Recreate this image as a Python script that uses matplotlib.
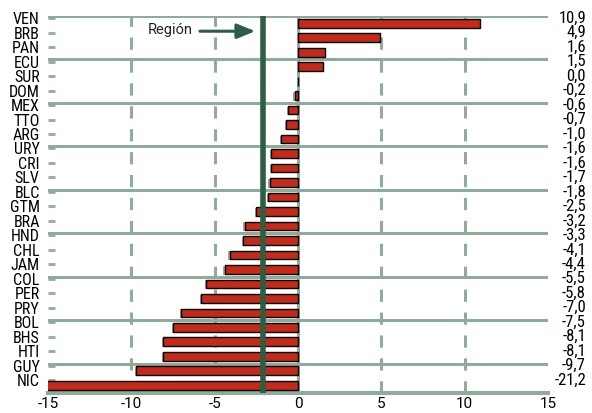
import matplotlib.pyplot as plt
from matplotlib.transforms import blended_transform_factory

plt.rcParams['font.family'] = ['Roboto Condensed', 'DejaVu Sans']

paises = ["VEN", "BRB", "PAN", "ECU", "SUR", "DOM", "MEX", "TTO", "ARG", "URY",
          "CRI", "SLV", "BLC", "GTM", "BRA", "HND", "CHL", "JAM", "COL", "PER",
          "PRY", "BOL", "BHS", "HTI", "GUY", "NIC"]
valores = [10.9, 4.9, 1.6, 1.5, 0.0, -0.2, -0.6, -0.7, -1.0, -1.6,
           -1.6, -1.7, -1.8, -2.5, -3.2, -3.3, -4.1, -4.4, -5.5, -5.8,
           -7.0, -7.5, -8.1, -8.1, -9.7, -21.2]
region = -2.1

verde_gris = '#8fac9a'
verde = '#2d5e45'
rojo = '#c42a1a'
normal = ['Roboto', 'DejaVu Sans']

fig = plt.figure(figsize=(5.92, 4.13), dpi=100)
ax = fig.add_axes([48 / 592, 1 - 392.5 / 413, 500 / 592, 376.5 / 413])

ypos = list(range(len(paises)))
ax.set_xlim(-15, 15)
ax.set_ylim(len(paises) - 0.5, -0.5)

# grilla
for x in [-10, -5, 5, 10]:
    ax.axvline(x, color=verde_gris, lw=2.2, ls=(0, (4, 3.5)), zorder=1)
ax.axvline(0, color=verde_gris, lw=2.2, zorder=1)
for i in range(0, len(paises), 3):
    ax.axhline(i - 0.5, color=verde_gris, lw=2.2, zorder=1)
ax.axhline(len(paises) - 0.5, color=verde_gris, lw=3, zorder=1, clip_on=False)

# sombra leve y barras
ax.barh([y + 0.06 for y in ypos], valores, left=-0.08, height=0.6, color='#a5a5a5',
        lw=0, zorder=2)
ax.barh(ypos, valores, height=0.6, color=rojo, edgecolor='black', lw=1, zorder=3)
ax.axvline(region, color=verde, lw=4, zorder=4)

ax.annotate('', xy=(region - 0.3, 0.55), xytext=(-6.05, 0.55),
            arrowprops=dict(arrowstyle='-|>,head_length=1.1,head_width=0.45',
                            color=verde, lw=2.2), zorder=5)
ax.text(-6.3, 0.45, 'Región', ha='right', va='center', fontsize=10.5,
        family=normal, color='#222222')

for s in ax.spines.values():
    s.set_visible(False)

ax.set_yticks([y - 0.35 for y in ypos])
ax.set_yticklabels(paises, fontsize=11.5)
ax.tick_params(axis='y', direction='in', length=5, width=2, color=verde_gris, pad=6)
ax.set_xticks([-15, -10, -5, 0, 5, 10, 15])
ax.set_xticklabels(['-15', '-10', '-5', '0', '5', '10', '15'], fontsize=11, family=normal)
ax.tick_params(axis='x', length=0, pad=3)

tr = blended_transform_factory(fig.transFigure, ax.transData)
for y, v in zip(ypos, valores):
    ax.text(586 / 592, y - 0.35, f"{v:.1f}".replace('.', ','), transform=tr,
            ha='right', va='center', fontsize=12, clip_on=False)

fig.savefig('out.png', dpi=100)
